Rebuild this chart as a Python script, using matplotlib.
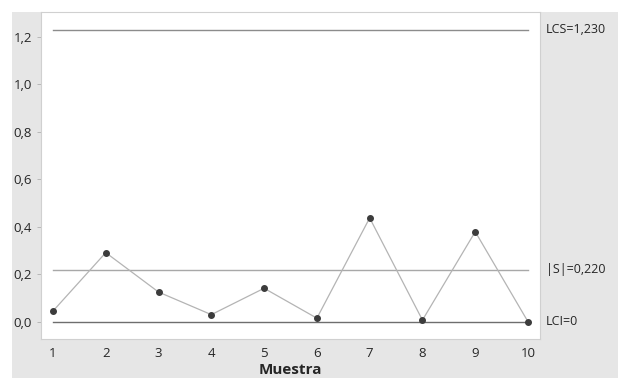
import matplotlib.pyplot as plt
from matplotlib.patches import Rectangle

plt.rcParams['font.family'] = ['Open Sans', 'DejaVu Sans']

# Datos de la carta S
muestra = [1, 2, 3, 4, 5, 6, 7, 8, 9, 10]
s_valores = [0.046, 0.292, 0.126, 0.031, 0.142, 0.016, 0.438, 0.008, 0.380, 0.001]
lcs = 1.230
s_media = 0.220
lci = 0.0
etiquetas_limite = ['LCS=1,230', '|S|=0,220', 'LCI=0']
ticks_y = [0.0, 0.2, 0.4, 0.6, 0.8, 1.0, 1.2]
ticks_y_txt = ['0,0', '0,2', '0,4', '0,6', '0,8', '1,0', '1,2']

fig = plt.figure(figsize=(6.18, 3.78), dpi=100, facecolor='white')
W, H = 618, 378
# fondo gris
fig.patches.append(Rectangle((12 / W, 0), 1 - 12 / W, 1 - 12 / H, transform=fig.transFigure,
                             facecolor='#e6e6e6', edgecolor='none', zorder=-10))

ax = fig.add_axes([41 / W, 1 - 339 / H, (540 - 41) / W, (339 - 12) / H])
ax.set_facecolor('white')

ax.plot([1, 10], [lcs, lcs], color='#8c8c8c', lw=1)
ax.plot([1, 10], [s_media, s_media], color='#a8a8a8', lw=1)
ax.plot([1, 10], [lci, lci], color='#6e6e6e', lw=1)
ax.plot(muestra, s_valores, color='#b4b4b4', lw=0.9, zorder=3)
ax.plot(muestra, s_valores, 'o', color='#3c3c3c', ms=4, zorder=4)

ax.set_xlim(0.773, 10.227)
ax.set_ylim(-0.0716, 1.305)
ax.set_xticks(muestra)
ax.set_yticks(ticks_y)
ax.set_yticklabels(ticks_y_txt)
ax.tick_params(axis='both', labelsize=9.5, colors='#b0b0b0', labelcolor='#262626', length=3, width=0.6)
ax.tick_params(axis='x', length=0, pad=6)
for s in ax.spines.values():
    s.set_color('#d0d0d0')
    s.set_linewidth(0.8)

for val, txt in zip([lcs, s_media, lci], etiquetas_limite):
    ax.annotate(txt, xy=(1, val), xycoords=('axes fraction', 'data'), xytext=(4, 0),
                textcoords='offset points', va='center', ha='left', fontsize=9, color='#262626')

ax.set_xlabel('Muestra', fontsize=11, fontweight='bold', color='#262626', labelpad=2)

fig.savefig('out.png', dpi=100, facecolor='white')
